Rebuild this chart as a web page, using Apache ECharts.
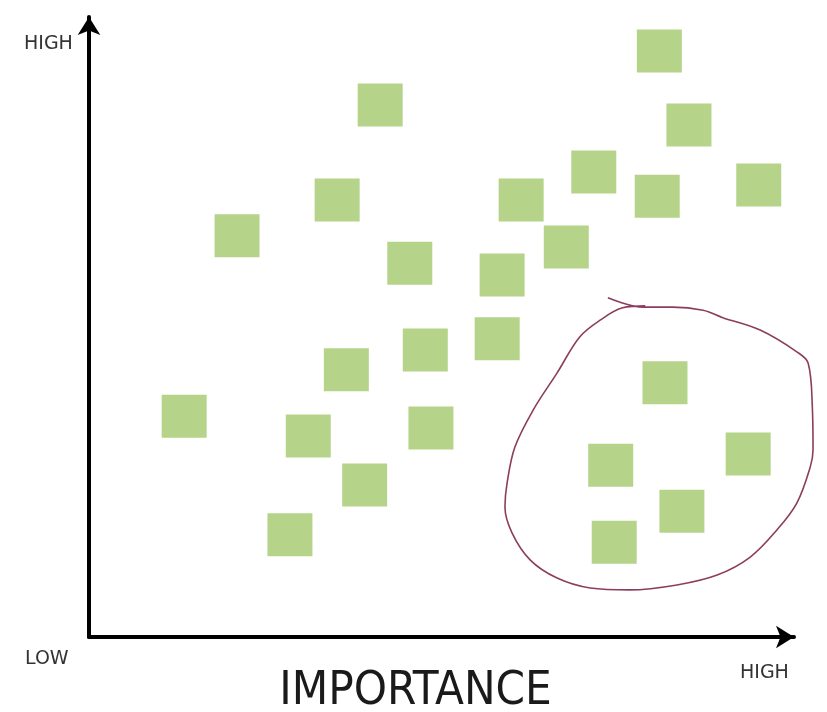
<!DOCTYPE html>
<html>
<head>
<meta charset="utf-8">
<script src="https://cdn.jsdelivr.net/npm/echarts@6/dist/echarts.min.js"></script>
<style>
html,body{margin:0;padding:0;background:#fff;}
#chart{width:827px;height:712px;}
</style>
</head>
<body>
<div id="chart"></div>
<script>
// Square notes: importance (x) and the vertical measure (y), both on a 0–100 scale
const noteX = [80.9, 41.3, 85.1, 71.6, 80.6, 95.0, 35.2, 61.3, 21.0, 67.7, 45.5, 58.6, 57.9, 47.7, 36.5, 13.5, 31.1, 48.5, 39.1, 28.5, 81.7, 74.0, 93.5, 84.1, 74.5];
const noteY = [94.5, 85.8, 82.6, 75.0, 71.1, 72.9, 70.5, 70.5, 64.7, 62.9, 60.3, 58.4, 48.1, 46.3, 43.1, 35.6, 32.4, 33.7, 24.5, 16.5, 41.0, 27.7, 29.5, 20.3, 15.3];

// Hand-drawn loop around the lower-right group (same 0–100 scale)
const loopX = [73.6, 78.6, 82.8, 87.1, 89.9, 95.2, 100.4, 102.0, 102.6, 102.7, 102.3, 100.4, 97.6, 93.8, 89.1, 83.4, 76.7, 71.1, 66.4, 62.6, 60.0, 59.0, 59.3, 60.4, 63.0, 66.4, 69.6, 72.5, 75.7, 78.9];
const loopY = [54.7, 53.2, 53.2, 52.7, 51.5, 49.5, 46.0, 44.2, 37.1, 30.2, 27.4, 21.6, 17.3, 12.9, 10.0, 8.4, 7.6, 7.9, 9.5, 12.4, 16.8, 21.0, 24.8, 30.6, 36.6, 42.6, 48.4, 51.1, 53.1, 53.4];

// Texts
const axisTitle = 'IMPORTANCE';
const yHighLabel = 'HIGH';
const xLowLabel = 'LOW';
const xHighLabel = 'HIGH';

const chart = echarts.init(document.getElementById('chart'), null, {renderer: 'canvas'});

const GRID_LEFT = 89, GRID_RIGHT = 33, GRID_TOP = 17, GRID_BOTTOM = 75;
const W = 827;
const plotW = W - GRID_LEFT - GRID_RIGHT;
// wider overlay grid (same scale) so the loop may run past the arrow tip
const wideMax = 100 * (W - GRID_LEFT) / plotW;

const hiddenAxis = {show: false, splitLine: {show: false}};

const labelStyle = {fontFamily: 'DejaVu Sans', fontSize: 19, fill: '#333333'};

chart.setOption({
  backgroundColor: '#ffffff',
  animation: false,
  grid: [
    {left: GRID_LEFT, right: GRID_RIGHT, top: GRID_TOP, bottom: GRID_BOTTOM, outerBoundsMode: 'none', containLabel: false},
    {left: GRID_LEFT, right: 0, top: GRID_TOP, bottom: GRID_BOTTOM, outerBoundsMode: 'none', containLabel: false}
  ],
  xAxis: [
    {
      type: 'value', min: 0, max: 100, gridIndex: 0,
      splitLine: {show: false}, axisTick: {show: false}, axisLabel: {show: false},
      axisLine: {show: true, symbol: ['none', 'arrow'], symbolSize: [17, 18], lineStyle: {color: '#000', width: 4}},
      name: axisTitle,
      nameLocation: 'middle',
      nameGap: 31,
      nameTextStyle: {fontFamily: 'DejaVu Sans Condensed', fontSize: 47, color: '#1a1a1a', padding: [0, 52, 0, 0]}
    },
    Object.assign({type: 'value', min: 0, max: wideMax, gridIndex: 1}, hiddenAxis)
  ],
  yAxis: [
    {
      type: 'value', min: 0, max: 100, gridIndex: 0,
      splitLine: {show: false}, axisTick: {show: false}, axisLabel: {show: false},
      axisLine: {show: true, symbol: ['none', 'arrow'], symbolSize: [17, 18], lineStyle: {color: '#000', width: 4}}
    },
    Object.assign({type: 'value', min: 0, max: 100, gridIndex: 1}, hiddenAxis)
  ],
  graphic: [
    {type: 'text', left: 24, top: 35, style: Object.assign({text: yHighLabel}, labelStyle)},
    {type: 'text', left: 25, top: 650, style: Object.assign({text: xLowLabel}, labelStyle)},
    {type: 'text', left: 740, top: 664, style: Object.assign({text: xHighLabel}, labelStyle)}
  ],
  series: [
    {
      type: 'line',
      xAxisIndex: 1, yAxisIndex: 1,
      data: loopX.map((x, i) => [x, loopY[i]]),
      smooth: 0.35,
      showSymbol: false,
      symbol: 'none',
      clip: false,
      silent: true,
      lineStyle: {color: '#8c3d5e', width: 1.6}
    },
    {
      type: 'scatter',
      xAxisIndex: 0, yAxisIndex: 0,
      data: noteX.map((x, i) => [x, noteY[i]]),
      symbol: 'rect',
      symbolSize: [45, 43],
      silent: true,
      itemStyle: {color: '#b5d48a', opacity: 1}
    }
  ]
});
</script>
</body>
</html>
